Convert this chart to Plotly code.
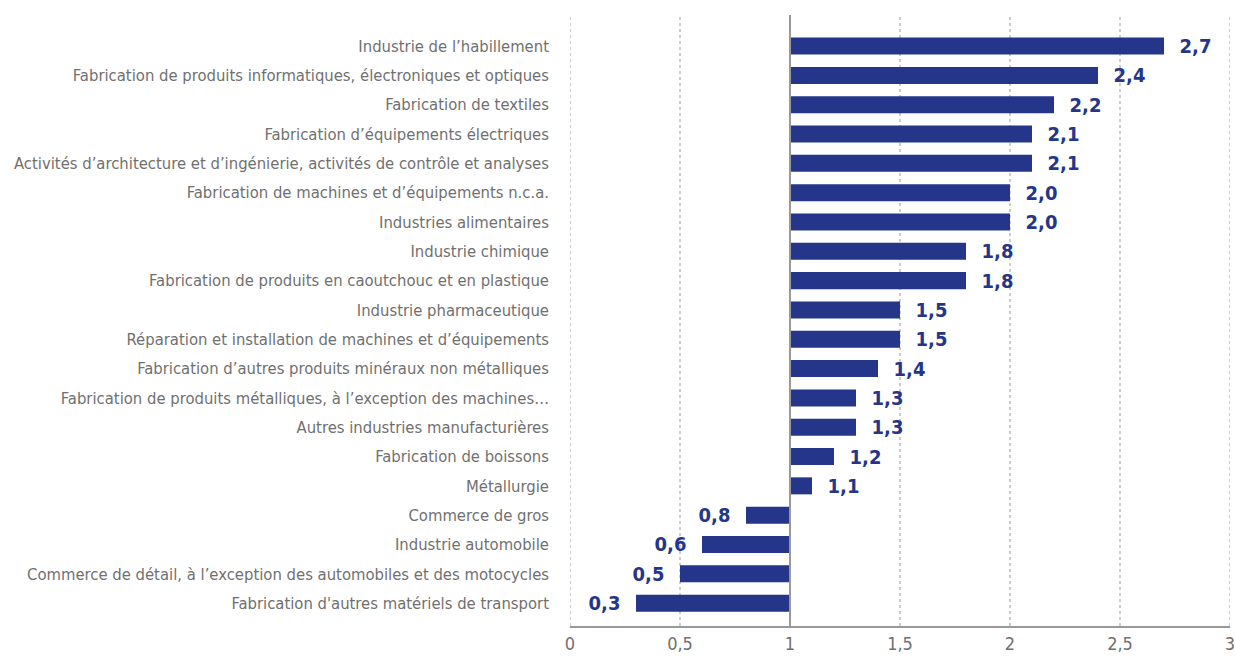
import plotly.graph_objects as go

categories = [
    "Industrie de l’habillement",
    "Fabrication de produits informatiques, électroniques et optiques",
    "Fabrication de textiles",
    "Fabrication d’équipements électriques",
    "Activités d’architecture et d’ingénierie, activités de contrôle et analyses",
    "Fabrication de machines et d’équipements n.c.a.",
    "Industries alimentaires",
    "Industrie chimique",
    "Fabrication de produits en caoutchouc et en plastique",
    "Industrie pharmaceutique",
    "Réparation et installation de machines et d’équipements",
    "Fabrication d’autres produits minéraux non métalliques",
    "Fabrication de produits métalliques, à l’exception des machines…",
    "Autres industries manufacturières",
    "Fabrication de boissons",
    "Métallurgie",
    "Commerce de gros",
    "Industrie automobile",
    "Commerce de détail, à l’exception des automobiles et des motocycles",
    "Fabrication d'autres matériels de transport",
]
values = [2.7, 2.4, 2.2, 2.1, 2.1, 2.0, 2.0, 1.8, 1.8, 1.5,
          1.5, 1.4, 1.3, 1.3, 1.2, 1.1, 0.8, 0.6, 0.5, 0.3]
tick_vals = [0, 0.5, 1, 1.5, 2, 2.5, 3]
tick_text = ["0", "0,5", "1", "1,5", "2", "2,5", "3"]

base = 1.0
FONT = "DejaVu Sans Condensed, sans-serif"
BLUE = "#25368a"
GREY = "#707070"
NB = "\u00a0"


def label(v):
    s = f"{v:.1f}".replace(".", ",")
    # keep a small gap between bar end and value
    return NB * 2 + s if v >= base else s + NB * 2


fig = go.Figure()
fig.add_trace(go.Bar(
    y=categories,
    x=[v - base for v in values],
    base=base,
    orientation="h",
    marker=dict(color=BLUE, line=dict(width=0)),
    width=0.58,
    text=[label(v) for v in values],
    textposition="outside",
    constraintext="none",
    textfont=dict(family=FONT, size=20, color=BLUE, weight="bold"),
    cliponaxis=False,
    hoverinfo="skip",
))

# dotted grid lines, solid reference line at 1
for t in tick_vals:
    if t == base:
        continue
    fig.add_vline(x=t, line=dict(color="#999999", width=1, dash="dot"), layer="below")
fig.add_vline(x=base, line=dict(color="#999999", width=2), layer="above")

fig.update_layout(
    width=1235, height=659,
    margin=dict(l=570, r=5, t=15, b=33),
    plot_bgcolor="white", paper_bgcolor="white",
    showlegend=False,
    font=dict(family=FONT, color=GREY, size=16.5),
    xaxis=dict(
        range=[0, 3], tickvals=tick_vals, ticktext=tick_text,
        showgrid=False, zeroline=False,
        showline=True, linecolor="#999999", linewidth=2,
        tickfont=dict(size=18, color=GREY), ticks="",
        ticklabeloverflow="allow", automargin=False,
    ),
    yaxis=dict(
        categoryorder="array", categoryarray=categories,
        range=[19.78, -1.06],
        showgrid=False, zeroline=False, ticks="",
        tickfont=dict(size=16.5, color=GREY), ticklabelstandoff=20,
        automargin=False,
    ),
)

fig.write_html(
    "out.html",
    config={"displayModeBar": False},
    post_script="document.body.style.margin='0';",
)
